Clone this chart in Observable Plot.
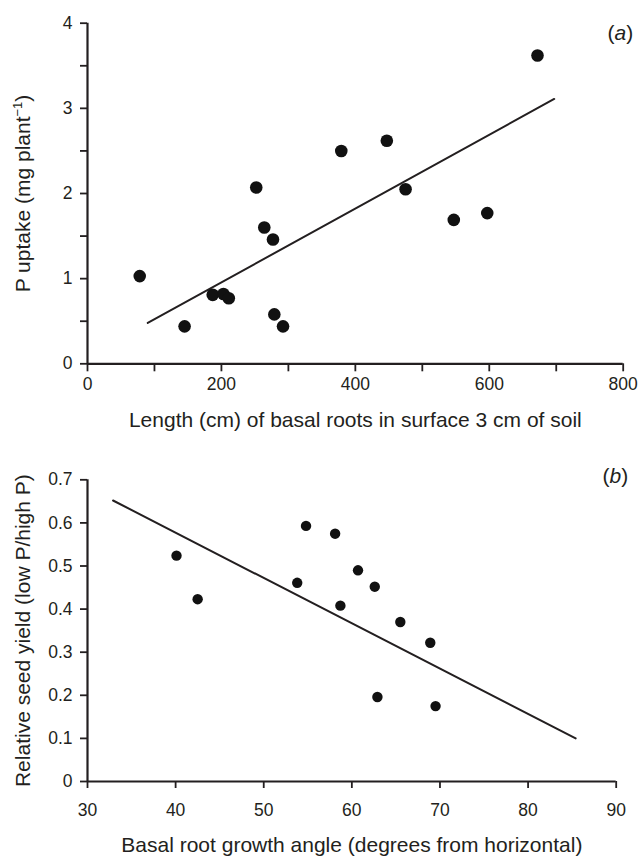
<!DOCTYPE html>
<html><head><meta charset="utf-8">
<script src="https://cdn.jsdelivr.net/npm/d3@7"></script>
<script src="https://cdn.jsdelivr.net/npm/@observablehq/plot@0.6"></script>
<style>body{margin:0;background:#fff;} svg{display:block}</style>
</head><body><div id="chart"></div>
<script>
// Panel (a)
const rootLengthA = [78, 145, 187, 203, 211, 252, 264, 277, 279, 292, 379, 447, 475, 547, 597, 672];
const pUptakeA    = [1.03, 0.44, 0.81, 0.82, 0.77, 2.07, 1.60, 1.46, 0.58, 0.44, 2.50, 2.62, 2.05, 1.69, 1.77, 3.62];
const fitXA = [90, 697];
const fitYA = [0.48, 3.11];
const xTicksA = [0, 100, 200, 300, 400, 500, 600, 700, 800];
const xTickLabelsA = ["0", "", "200", "", "400", "", "600", "", "800"];
const yTicksA = [0, 0.5, 1, 1.5, 2, 2.5, 3, 3.5, 4];
const yTickLabelsA = ["0", "", "1", "", "2", "", "3", "", "4"];
const xTitleA = "Length (cm) of basal roots in surface 3 cm of soil";
const yTitleA = "P uptake (mg plant-1)";
const panelA = "(a)";

// Panel (b)
const angleB = [40.1, 42.5, 53.8, 54.8, 58.1, 58.7, 60.7, 62.6, 62.9, 65.5, 68.9, 69.5];
const yieldB = [0.524, 0.423, 0.461, 0.593, 0.575, 0.408, 0.490, 0.452, 0.196, 0.370, 0.322, 0.175];
const fitXB = [32.9, 85.4];
const fitYB = [0.652, 0.100];
const xTicksB = [30, 40, 50, 60, 70, 80, 90];
const xTickLabelsB = ["30", "40", "50", "60", "70", "80", "90"];
const yTicksB = [0, 0.1, 0.2, 0.3, 0.4, 0.5, 0.6, 0.7];
const yTickLabelsB = ["0", "0.1", "0.2", "0.3", "0.4", "0.5", "0.6", "0.7"];
const xTitleB = "Basal root growth angle (degrees from horizontal)";
const yTitleB = "Relative seed yield (low P/high P)";
const panelB = "(b)";

const INK = "#231f20";
const style = {fontFamily: "'Liberation Sans', Arial, Helvetica, sans-serif", fontSize: "17.5px", color: INK, background: "#fff", overflow: "visible"};

const ptsA = rootLengthA.map((x, i) => ({x, y: pUptakeA[i]}));
const lineA = fitXA.map((x, i) => ({x, y: fitYA[i]}));
const ptsB = angleB.map((x, i) => ({x, y: yieldB[i]}));
const lineB = fitXB.map((x, i) => ({x, y: fitYB[i]}));

const chartA = Plot.plot({
  width: 640, height: 430,
  marginLeft: 87, marginRight: 17.3, marginTop: 22.7, marginBottom: 66.7,
  style,
  x: {domain: [0, 800]},
  y: {domain: [0, 4]},
  marks: [
    Plot.axisX({ticks: xTicksA, tickFormat: d => xTickLabelsA[xTicksA.indexOf(d)], tickSize: 8, tickPadding: 6, strokeWidth: 1.8, label: null, fontSize: 17.5}),
    Plot.axisY({ticks: yTicksA, tickFormat: d => yTickLabelsA[yTicksA.indexOf(d)], tickSize: 7, tickPadding: 8, strokeWidth: 1.8, label: null, fontSize: 17.5}),
    Plot.ruleY([0], {stroke: INK, strokeWidth: 2.2}),
    Plot.ruleX([0], {stroke: INK, strokeWidth: 2.2}),
    Plot.line(lineA, {x: "x", y: "y", stroke: INK, strokeWidth: 2}),
    Plot.dot(ptsA, {x: "x", y: "y", r: 6.3, fill: "#111", stroke: "none"}),
    Plot.text([xTitleA], {text: d => d, frameAnchor: "bottom", dy: 56, fontSize: 21, textAnchor: "middle", lineAnchor: "middle"}),
    Plot.text([yTitleA], {text: d => d, frameAnchor: "left", dx: -64, rotate: -90, fontSize: 21, textAnchor: "middle", lineAnchor: "middle"}),
    Plot.text([panelA], {text: d => d, frameAnchor: "top-right", dx: 10, dy: 10.5, fontSize: 21, textAnchor: "end", lineAnchor: "middle"})
  ]
});

const chartB = Plot.plot({
  width: 640, height: 426,
  marginLeft: 87, marginRight: 24.3, marginTop: 49.3, marginBottom: 75,
  style,
  x: {domain: [30, 90]},
  y: {domain: [0, 0.7]},
  marks: [
    Plot.axisX({ticks: xTicksB, tickFormat: d => xTickLabelsB[xTicksB.indexOf(d)], tickSize: 7, tickPadding: 15, strokeWidth: 1.8, label: null, fontSize: 17.5}),
    Plot.axisY({ticks: yTicksB, tickFormat: d => yTickLabelsB[yTicksB.findIndex(t => Math.abs(t - d) < 1e-9)], tickSize: 7, tickPadding: 8, strokeWidth: 1.8, label: null, fontSize: 17.5}),
    Plot.ruleY([0], {stroke: INK, strokeWidth: 2.2}),
    Plot.ruleX([30], {stroke: INK, strokeWidth: 2.2}),
    Plot.line(lineB, {x: "x", y: "y", stroke: INK, strokeWidth: 2}),
    Plot.dot(ptsB, {x: "x", y: "y", r: 5.2, fill: "#111", stroke: "none"}),
    Plot.text([xTitleB], {text: d => d, frameAnchor: "bottom", dy: 64, fontSize: 21, textAnchor: "middle", lineAnchor: "middle"}),
    Plot.text([yTitleB], {text: d => d, frameAnchor: "left", dx: -64, rotate: -90, fontSize: 21, textAnchor: "middle", lineAnchor: "middle"}),
    Plot.text([panelB], {text: d => d, frameAnchor: "top-right", dx: 12, dy: -4, fontSize: 21, textAnchor: "end", lineAnchor: "middle"})
  ]
});

const NS = "http://www.w3.org/2000/svg";
function tspan(parent, txt, attrs = {}) {
  const t = document.createElementNS(NS, "tspan");
  t.textContent = txt;
  for (const k in attrs) t.setAttribute(k, attrs[k]);
  parent.appendChild(t);
  return t;
}
function fix(svg) {
  for (const t of svg.querySelectorAll("text")) {
    const s = t.textContent;
    if (s === yTitleA) {
      t.textContent = "";
      tspan(t, "P uptake (mg plant");
      tspan(t, "\u22121", {"font-size": "13px", dy: "-8"});
      tspan(t, ")", {dy: "8"});
    } else if (s === panelA || s === panelB) {
      t.textContent = "";
      tspan(t, "(");
      tspan(t, s[1], {"font-style": "italic"});
      tspan(t, ")");
    }
  }
}
fix(chartA); fix(chartB);
document.getElementById("chart").append(chartA, chartB);
</script>
</body></html>
